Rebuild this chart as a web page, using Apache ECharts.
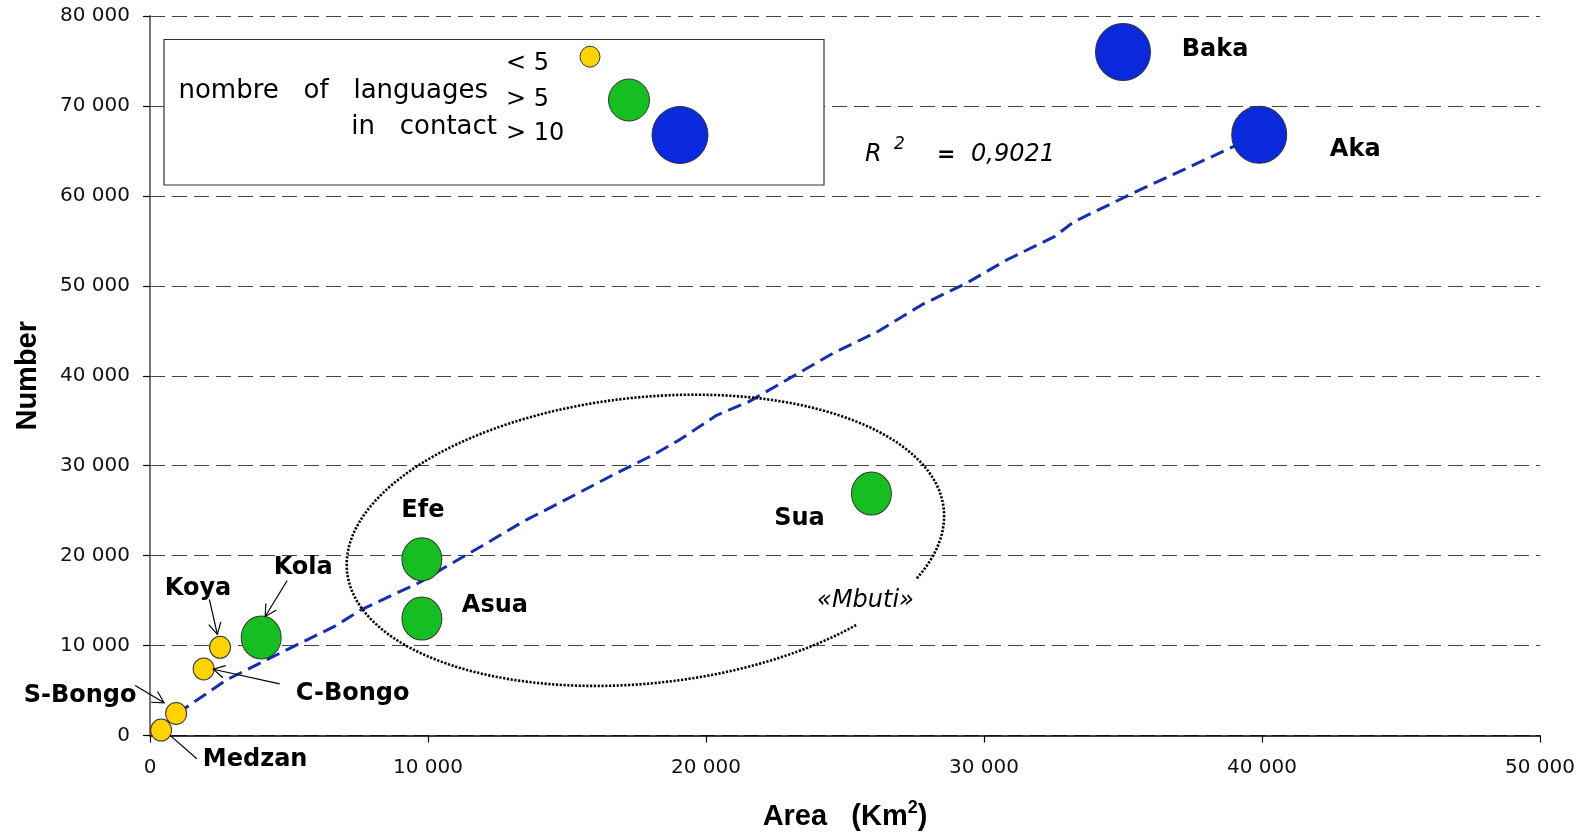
<!DOCTYPE html>
<html>
<head>
<meta charset="utf-8">
<script src="https://cdn.jsdelivr.net/npm/echarts@6/dist/echarts.min.js"></script>
<style>html,body{margin:0;padding:0;background:#fff}#c{width:1588px;height:836px}</style>
</head>
<body>
<div id="c"></div>
<script>
// ---- data ----
const groupNames = ['Medzan', 'S-Bongo', 'C-Bongo', 'Koya', 'Kola', 'Efe', 'Asua', 'Sua', 'Baka', 'Aka'];
const areaKm2 = [400, 940, 1930, 2520, 4000, 9780, 9780, 25950, 35000, 39900];
const populationNumber = [600, 2450, 7400, 9800, 10900, 19600, 13000, 26900, 76000, 66800];
const languageClass = ['small', 'small', 'small', 'small', 'mid', 'mid', 'mid', 'mid', 'big', 'big'];
const trendX = [400, 1200, 2760, 5100, 6620, 7610, 9750, 10550, 12230, 13430, 14630, 16670, 18100, 19060, 20380, 21530, 23110, 24570, 26170, 27770, 29370, 30830, 32550, 33220, 35490, 39900];
const trendY = [900, 2900, 6200, 9800, 12100, 14000, 17100, 18600, 21600, 23800, 25700, 29000, 31200, 32900, 35600, 37100, 39900, 42500, 44900, 47900, 50300, 52900, 55500, 57100, 60500, 66800];
const xTickLabels = ['0', '10 000', '20 000', '30 000', '40 000', '50 000'];
const yTickLabels = ['0', '10 000', '20 000', '30 000', '40 000', '50 000', '60 000', '70 000', '80 000'];
const legendClassLabels = ['< 5', '> 5', '> 10'];
const legendTitleLines = ['nombre   of   languages', 'in   contact'];
const r2Text = '0,9021';

// ---- styles ----
const classStyle = {
  small: { color: '#FFD200', size: [21, 22] },
  mid: { color: '#17BE22', size: [40, 43] },
  big: { color: '#0A28DC', size: [55, 57] }
};
const labelOffsets = {
  'Baka': [92, -2], 'Aka': [96, 15], 'Sua': [-72, 25], 'Efe': [1, -48], 'Asua': [73, -13],
  'Kola': [42, -70], 'Koya': [-22, -59], 'C-Bongo': [149, 25], 'S-Bongo': [-96, -18], 'Medzan': [94, 30]
};
// arrow: [startOffset, endOffset, withHead]
const arrowOffsets = {
  'Koya': [[-10.7, -48], [-2.7, -13], true],
  'Kola': [[26, -57], [4, -21], true],
  'C-Bongo': [[76, 15], [9.6, 0.3], true],
  'S-Bongo': [[-41, -28], [-12, -10.7], true],
  'Medzan': [[35.7, 28.6], [9, 5.3], false]
};

const boldFont = "'DejaVu Sans', sans-serif";
const titleFont = "'Liberation Sans', Arial, sans-serif";
const tickFont = "'DejaVu Sans', sans-serif";

function buildSeries(cls) {
  const data = [];
  for (let i = 0; i < groupNames.length; i++) {
    if (languageClass[i] !== cls) continue;
    data.push({ name: groupNames[i], value: [areaKm2[i], populationNumber[i]], label: { offset: labelOffsets[groupNames[i]] } });
  }
  return {
    type: 'scatter', z: 5, data: data,
    symbol: 'circle', symbolSize: classStyle[cls].size,
    itemStyle: { color: classStyle[cls].color, borderColor: '#333', borderWidth: 1, opacity: 1 },
    label: {
      show: true, position: 'inside', formatter: '{b}', color: '#000',
      fontFamily: boldFont, fontWeight: 'bold', fontSize: 24
    },
    emphasis: { disabled: true }, silent: true
  };
}

const chart = echarts.init(document.getElementById('c'));
const option = {
  animation: false,
  backgroundColor: '#fff',
  grid: { left: 150, right: 48, top: 16, bottom: 100 },
  xAxis: {
    type: 'value', min: 0, max: 50000, interval: 10000,
    name: '{a|Area   (Km}{s|2}{a|)}', nameLocation: 'middle', nameGap: 64,
    nameTextStyle: {
      rich: {
        a: { fontFamily: titleFont, fontWeight: 'bold', fontSize: 29, color: '#000', lineHeight: 34 },
        s: { fontFamily: titleFont, fontWeight: 'bold', fontSize: 18, color: '#000', lineHeight: 24, verticalAlign: 'top' }
      }
    },
    axisLine: { show: true, onZero: false, lineStyle: { color: '#000', width: 1.5 } },
    axisTick: { show: true, length: 7, inside: false, lineStyle: { color: '#000', width: 1.2 } },
    axisLabel: { margin: 22, fontFamily: tickFont, fontSize: 20, color: '#111',
      formatter: function (v) { return xTickLabels[Math.round(v / 10000)]; } },
    splitLine: { show: false }
  },
  yAxis: [{
    type: 'value', min: 0, max: 80000, interval: 10000,
    name: 'Number', nameLocation: 'middle', nameGap: 108, nameRotate: 90,
    nameTextStyle: { fontFamily: titleFont, fontWeight: 'bold', fontSize: 29, color: '#000' },
    axisLine: { show: true, onZero: false, lineStyle: { color: '#000', width: 1.5 } },
    axisTick: { show: true, length: 7, inside: false, lineStyle: { color: '#000', width: 1.2 } },
    axisLabel: { margin: 20, fontFamily: tickFont, fontSize: 20, color: '#111',
      formatter: function (v) { return yTickLabels[Math.round(v / 10000)]; } },
    splitLine: { show: true, lineStyle: { color: '#444', width: 1.2, type: [15, 7] } }
  }, {
    type: 'value', min: 0, max: 80000, interval: 10000, position: 'right',
    axisLine: { show: true, lineStyle: { color: '#888', width: 1.5 } },
    axisTick: { show: false }, axisLabel: { show: false }, splitLine: { show: false }
  }],
  series: [{
    type: 'line', z: 2, silent: true, showSymbol: false, symbol: 'none',
    data: trendX.map(function (x, i) { return [x, trendY[i]]; }),
    lineStyle: { color: '#1530AA', width: 3, type: [14, 7] }
  }, buildSeries('small'), buildSeries('mid'), buildSeries('big')]
};
chart.setOption(option);

// ---- annotations (legend box, ellipse, arrows, texts) ----
const g = [];
g.push({ type: 'rect', shape: { x: 164, y: 39.5, width: 660, height: 145.5 },
  style: { fill: '#fff', stroke: '#333', lineWidth: 1.2 }, z: 10 });
const legFont = "'DejaVu Sans', sans-serif";
g.push({ type: 'text', x: 488, y: 91.5, z: 11, style: { text: legendTitleLines[0], font: '26px ' + legFont, fill: '#000', textAlign: 'right', textVerticalAlign: 'middle' } });
g.push({ type: 'text', x: 497, y: 127, z: 11, style: { text: legendTitleLines[1], font: '26px ' + legFont, fill: '#000', textAlign: 'right', textVerticalAlign: 'middle' } });
const legY = [64, 99.5, 134];
legendClassLabels.forEach(function (t, i) {
  g.push({ type: 'text', x: 506, y: legY[i], z: 11, style: { text: t, font: '24px ' + legFont, fill: '#000', textAlign: 'left', textVerticalAlign: 'middle' } });
});
const legCircles = [['small', 590, 56.7, [20, 21]], ['mid', 629, 100, [41, 42]], ['big', 680, 135, [56, 57]]];
legCircles.forEach(function (c) {
  g.push({ type: 'circle', z: 11, x: c[1], y: c[2], scaleX: c[3][0] / c[3][1], shape: { cx: 0, cy: 0, r: c[3][1] / 2 },
    style: { fill: classStyle[c[0]].color, stroke: '#333', lineWidth: 1 } });
});

// R^2
const obl = "'DejaVu Sans', sans-serif";
g.push({ type: 'text', x: 865, y: 155, z: 11, style: { text: 'R', font: 'italic 24px ' + obl, fill: '#000', textVerticalAlign: 'middle' } });
g.push({ type: 'text', x: 894, y: 145, z: 11, style: { text: '2', font: 'italic 17px ' + obl, fill: '#000', textVerticalAlign: 'middle' } });
g.push({ type: 'text', x: 937, y: 155, z: 11, style: { text: '=', font: 'bold 22px ' + obl, fill: '#000', textVerticalAlign: 'middle' } });
g.push({ type: 'text', x: 971, y: 155, z: 11, style: { text: r2Text, font: 'italic 24px ' + obl, fill: '#000', textVerticalAlign: 'middle' } });

// Mbuti ellipse (dotted, open at lower right)
(function () {
  const cx = 645.4, cy = 540.3, a = 300, b = 143, phi = -6 * Math.PI / 180;
  const pts = [];
  for (let d = 48; d <= 360 + 29; d += 2) {
    const t = d * Math.PI / 180;
    const ex = a * Math.cos(t), ey = b * Math.sin(t);
    pts.push([cx + ex * Math.cos(phi) - ey * Math.sin(phi), cy + ex * Math.sin(phi) + ey * Math.cos(phi)]);
  }
  g.push({ type: 'polyline', z: 3, shape: { points: pts }, style: { stroke: '#000', lineWidth: 2.6, lineDash: [2.2, 1.6], fill: null } });
})();
g.push({ type: 'text', x: 865.5, y: 601, z: 11, style: { text: '«Mbuti»', font: 'italic 24px ' + obl, fill: '#000', textAlign: 'center', textVerticalAlign: 'middle' } });

// arrows
for (let i = 0; i < groupNames.length; i++) {
  const ao = arrowOffsets[groupNames[i]];
  if (!ao) continue;
  const p = chart.convertToPixel({ gridIndex: 0 }, [areaKm2[i], populationNumber[i]]);
  const s = [p[0] + ao[0][0], p[1] + ao[0][1]];
  const e = [p[0] + ao[1][0], p[1] + ao[1][1]];
  g.push({ type: 'line', z: 6, shape: { x1: s[0], y1: s[1], x2: e[0], y2: e[1] }, style: { stroke: '#000', lineWidth: 1.2 } });
  if (ao[2]) {
    const ang = Math.atan2(e[1] - s[1], e[0] - s[0]);
    const L = 13, w = 0.5;
    const h1 = [e[0] - L * Math.cos(ang - w), e[1] - L * Math.sin(ang - w)];
    const h2 = [e[0] - L * Math.cos(ang + w), e[1] - L * Math.sin(ang + w)];
    g.push({ type: 'polyline', z: 6, shape: { points: [h1, e, h2] }, style: { stroke: '#000', lineWidth: 1.2, fill: null } });
  }
}
chart.setOption({ graphic: g });
</script>
</body>
</html>
